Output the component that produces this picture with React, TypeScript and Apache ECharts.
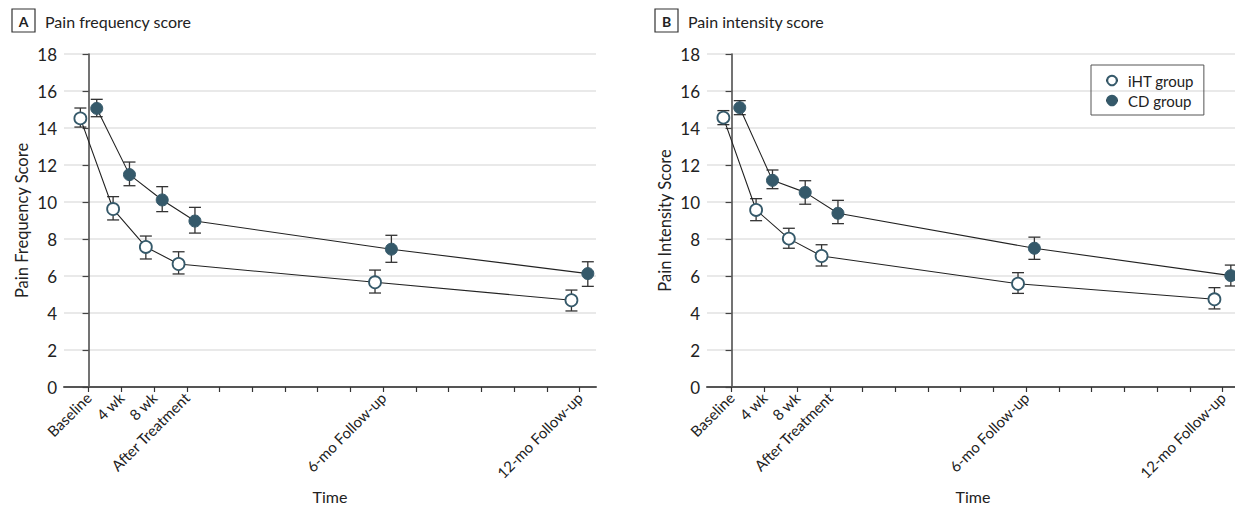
import React, { useEffect, useRef } from "react";
import * as echarts from "echarts";

// Time points (weeks from baseline) and their tick labels
const timeWeeks = [0, 4, 8, 12, 36, 60];
const timeLabels = ["Baseline", "4 wk", "8 wk", "After Treatment", "6-mo Follow-up", "12-mo Follow-up"];
const minorTicks = [0, 4, 8, 12, 16, 20, 24, 28, 32, 36, 40, 44, 48, 52, 56, 60];
const groupOffset = 1; // horizontal dodge in weeks

// Panel A: pain frequency score
const freqIHT = [14.52, 9.62, 7.57, 6.65, 5.66, 4.69];
const freqIHTLow = [14.05, 9.03, 6.92, 6.11, 5.08, 4.11];
const freqIHTHigh = [15.08, 10.29, 8.16, 7.31, 6.32, 5.24];
const freqCD = [15.06, 11.48, 10.11, 8.97, 7.45, 6.13];
const freqCDLow = [14.61, 10.88, 9.48, 8.32, 6.74, 5.44];
const freqCDHigh = [15.55, 12.16, 10.83, 9.71, 8.2, 6.77];

// Panel B: pain intensity score
const intIHT = [14.56, 9.57, 8.02, 7.08, 5.58, 4.74];
const intIHTLow = [14.18, 8.99, 7.5, 6.54, 5.06, 4.22];
const intIHTHigh = [14.94, 10.18, 8.58, 7.69, 6.18, 5.37];
const intCD = [15.1, 11.17, 10.52, 9.39, 7.5, 6.02];
const intCDLow = [14.72, 10.72, 9.88, 8.83, 6.9, 5.46];
const intCDHigh = [15.48, 11.73, 11.15, 10.09, 8.1, 6.59];

const FONT = "Lato";
const TEAL = "#35596a";
const TEXT = "#222";

function pts(vals: number[], off: number) {
  return vals.map((v, i) => [timeWeeks[i] + off, v]);
}
function errs(lo: number[], hi: number[], off: number) {
  return lo.map((l, i) => [timeWeeks[i] + off, l, hi[i]]);
}

function errorSeries(data: number[][], idx: number) {
  return {
    type: "custom",
    xAxisIndex: idx,
    yAxisIndex: idx,
    silent: true,
    z: 1,
    data,
    encode: { x: 0, y: [1, 2] },
    renderItem: (params: any, api: any) => {
      const x = api.value(0);
      const top = api.coord([x, api.value(2)]);
      const bot = api.coord([x, api.value(1)]);
      const hw = 6;
      const st = { stroke: "#333", lineWidth: 1.3 };
      return {
        type: "group",
        children: [
          { type: "line", shape: { x1: top[0], y1: top[1], x2: bot[0], y2: bot[1] }, style: st },
          { type: "line", shape: { x1: top[0] - hw, y1: top[1], x2: top[0] + hw, y2: top[1] }, style: st },
          { type: "line", shape: { x1: bot[0] - hw, y1: bot[1], x2: bot[0] + hw, y2: bot[1] }, style: st },
        ],
      };
    },
  };
}

function lineSeries(name: string, data: number[][], idx: number, filled: boolean) {
  return {
    type: "line",
    name,
    xAxisIndex: idx,
    yAxisIndex: idx,
    data,
    z: 3,
    symbol: "circle",
    symbolSize: 12,
    lineStyle: { color: "#222", width: 1.1 },
    itemStyle: filled
      ? { color: TEAL, borderColor: TEAL, borderWidth: 1 }
      : { color: "#fff", borderColor: TEAL, borderWidth: 1.8 },
  };
}

function xAxis(idx: number) {
  return {
    type: "value",
    gridIndex: idx,
    min: -3,
    max: 62,
    name: "Time",
    nameLocation: "middle",
    nameGap: 101,
    nameTextStyle: { fontFamily: FONT, fontSize: 16, color: TEXT },
    axisLine: { show: true, onZero: false, lineStyle: { color: "#555", width: 2 } },
    axisTick: { show: true, length: 5, customValues: minorTicks, lineStyle: { color: "#333", width: 1.2 } },
    axisLabel: {
      customValues: timeWeeks,
      rotate: 45,
      margin: 8,
      fontFamily: FONT,
      fontSize: 15,
      color: TEXT,
      formatter: (v: number) => {
        const i = timeWeeks.indexOf(v);
        return i >= 0 ? timeLabels[i] : "";
      },
    },
    splitLine: { show: false },
  };
}

function yAxis(idx: number, name: string) {
  return {
    type: "value",
    gridIndex: idx,
    min: 0,
    max: 18,
    interval: 2,
    name,
    nameLocation: "middle",
    nameGap: 34,
    nameTextStyle: { fontFamily: FONT, fontSize: 16.5, color: TEXT },
    axisLine: { show: true, lineStyle: { color: "#444", width: 1.5 } },
    axisTick: { show: true, length: 6, lineStyle: { color: "#444", width: 1.2 } },
    axisLabel: { fontFamily: FONT, fontSize: 17, color: TEXT, margin: 7 },
    splitLine: { show: true, lineStyle: { color: "#e2e2e2", width: 1.5 } },
  };
}

function panelTitle(letter: string, text: string, x: number) {
  return [
    {
      type: "rect",
      shape: { x, y: 9, width: 23, height: 23 },
      style: { fill: "#fff", stroke: "#333", lineWidth: 1.2 },
    },
    {
      type: "text",
      x: x + 11.5,
      y: 21,
      style: {
        text: letter,
        fontFamily: FONT,
        fontWeight: "bold",
        fontSize: 14,
        fill: TEXT,
        align: "center",
        verticalAlign: "middle",
      },
    },
    {
      type: "text",
      x: x + 33,
      y: 21,
      style: { text, fontFamily: FONT, fontSize: 16, fill: TEXT, align: "left", verticalAlign: "middle" },
    },
  ];
}

export default function App() {
  const ref = useRef<HTMLDivElement>(null);
  useEffect(() => {
    if (!ref.current) return;
    const chart = echarts.init(ref.current, null, { renderer: "svg" });
    chart.setOption({
      animation: false,
      backgroundColor: "#fff",
      grid: [
        { left: 64, top: 54, width: 532, height: 333, outerBoundsMode: "none", containLabel: false },
        { left: 707, top: 54, width: 532, height: 333, outerBoundsMode: "none", containLabel: false },
      ],
      xAxis: [xAxis(0), xAxis(1)],
      yAxis: [yAxis(0, "Pain Frequency Score"), yAxis(1, "Pain Intensity Score")],
      legend: {
        orient: "vertical",
        left: 1091,
        top: 65,
        padding: [8, 10, 7, 14],
        itemGap: 5,
        itemWidth: 12,
        itemHeight: 12,
        borderColor: "#555",
        borderWidth: 1,
        textStyle: { fontFamily: FONT, fontSize: 15, color: TEXT, padding: [0, 0, 0, 5] },
        data: ["iHT group", "CD group"],
      },
      graphic: [...panelTitle("A", "Pain frequency score", 12), ...panelTitle("B", "Pain intensity score", 655)],
      series: [
        errorSeries(errs(freqIHTLow, freqIHTHigh, -groupOffset), 0),
        errorSeries(errs(freqCDLow, freqCDHigh, groupOffset), 0),
        lineSeries("iHT group", pts(freqIHT, -groupOffset), 0, false),
        lineSeries("CD group", pts(freqCD, groupOffset), 0, true),
        errorSeries(errs(intIHTLow, intIHTHigh, -groupOffset), 1),
        errorSeries(errs(intCDLow, intCDHigh, groupOffset), 1),
        lineSeries("iHT group", pts(intIHT, -groupOffset), 1, false),
        lineSeries("CD group", pts(intCD, groupOffset), 1, true),
      ],
    });
    return () => chart.dispose();
  }, []);
  return (
    <div
      ref={ref}
      style={{ position: "fixed", left: 0, top: 0, width: 1235, height: 506, background: "#fff" }}
    />
  );
}
